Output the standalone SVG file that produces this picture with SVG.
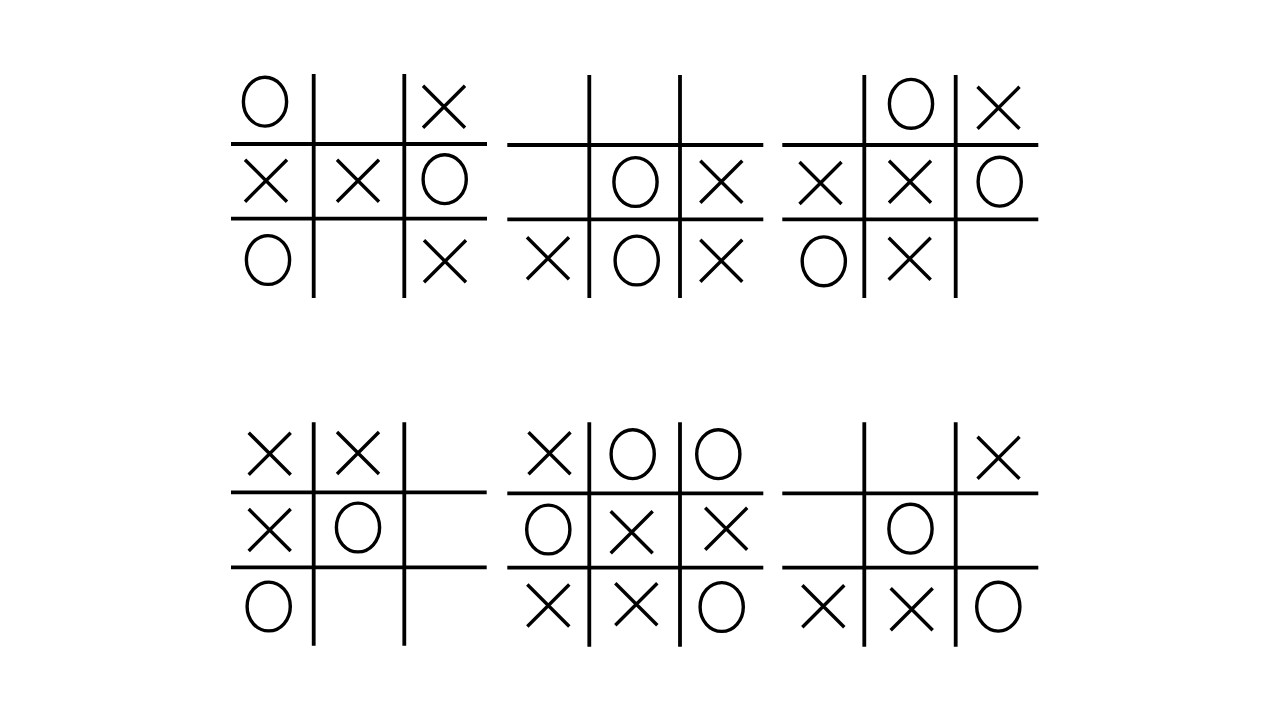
<svg xmlns="http://www.w3.org/2000/svg" xmlns:xlink="http://www.w3.org/1999/xlink" width="1280" height="720" viewBox="0 0 1280 720">
<style>
.grid{stroke:#000;stroke-width:3.8;fill:none}
.mark{stroke:#000;stroke-width:3.4;fill:none}
</style>
<defs>
<path id="X" class="mark" d="M-21,-21L21,21M21,-21L-21,21"/>
<ellipse id="O" class="mark" cx="0" cy="0" rx="21.6" ry="24.4"/>
</defs>
<rect width="1280" height="720" fill="#fff"/>
<g id="board1">
<path class="grid" d="M313.7,74V298M404.3,74V298M231,144H487M231,218.7H487"/>
<use href="#O" x="265" y="101.7"/>
<use href="#X" x="444" y="106.7"/>
<use href="#X" x="266" y="180.7"/>
<use href="#X" x="358" y="180.7"/>
<use href="#O" x="444.7" y="179.2"/>
<use href="#O" x="268" y="260"/>
<use href="#X" x="445" y="261.3"/>
</g>
<g id="board2">
<path class="grid" d="M589.3,75V298M680,75V298M507.3,145H763.3M507.3,219.3H763.3"/>
<use href="#O" x="635.5" y="182"/>
<use href="#X" x="721.3" y="181.7"/>
<use href="#X" x="548" y="258.3"/>
<use href="#O" x="636.7" y="260.5"/>
<use href="#X" x="721.3" y="260.8"/>
</g>
<g id="board3">
<path class="grid" d="M864.3,75V298M955.7,75V298M782.3,145H1038.3M782.3,219.3H1038.3"/>
<use href="#O" x="911" y="103.8"/>
<use href="#X" x="998.5" y="107.8"/>
<use href="#X" x="820.5" y="183"/>
<use href="#X" x="910" y="181.7"/>
<use href="#O" x="999.7" y="181.7"/>
<use href="#O" x="823.8" y="261.3"/>
<use href="#X" x="909.7" y="258.8"/>
</g>
<g id="board4">
<path class="grid" d="M313.7,422.3V645.7M404.3,422.3V645.7M231,492.3H486.7M231,567.3H486.7"/>
<use href="#X" x="269.7" y="453.7"/>
<use href="#X" x="358" y="453"/>
<use href="#X" x="269.7" y="530"/>
<use href="#O" x="358" y="527.5"/>
<use href="#O" x="268.7" y="606.5"/>
</g>
<g id="board5">
<path class="grid" d="M589.3,422.3V646.7M680,422.3V646.7M507.3,493.3H763.3M507.3,567.7H763.3"/>
<use href="#X" x="549.5" y="453.3"/>
<use href="#O" x="632.7" y="454.2"/>
<use href="#O" x="718.3" y="454.2"/>
<use href="#O" x="548.3" y="529.5"/>
<use href="#X" x="631.7" y="532.2"/>
<use href="#X" x="726.2" y="528.8"/>
<use href="#X" x="548.3" y="605.5"/>
<use href="#X" x="636.3" y="604.2"/>
<use href="#O" x="721.7" y="607"/>
</g>
<g id="board6">
<path class="grid" d="M864.3,422.3V646.7M955.7,422.3V646.7M782.3,493.3H1038.3M782.3,567.7H1038.3"/>
<use href="#X" x="998.5" y="457.8"/>
<use href="#O" x="910.5" y="528.7"/>
<use href="#X" x="823.3" y="606.3"/>
<use href="#X" x="911.7" y="609.3"/>
<use href="#O" x="998.3" y="606.7"/>
</g>
<g id="connectors"/>
</svg>
